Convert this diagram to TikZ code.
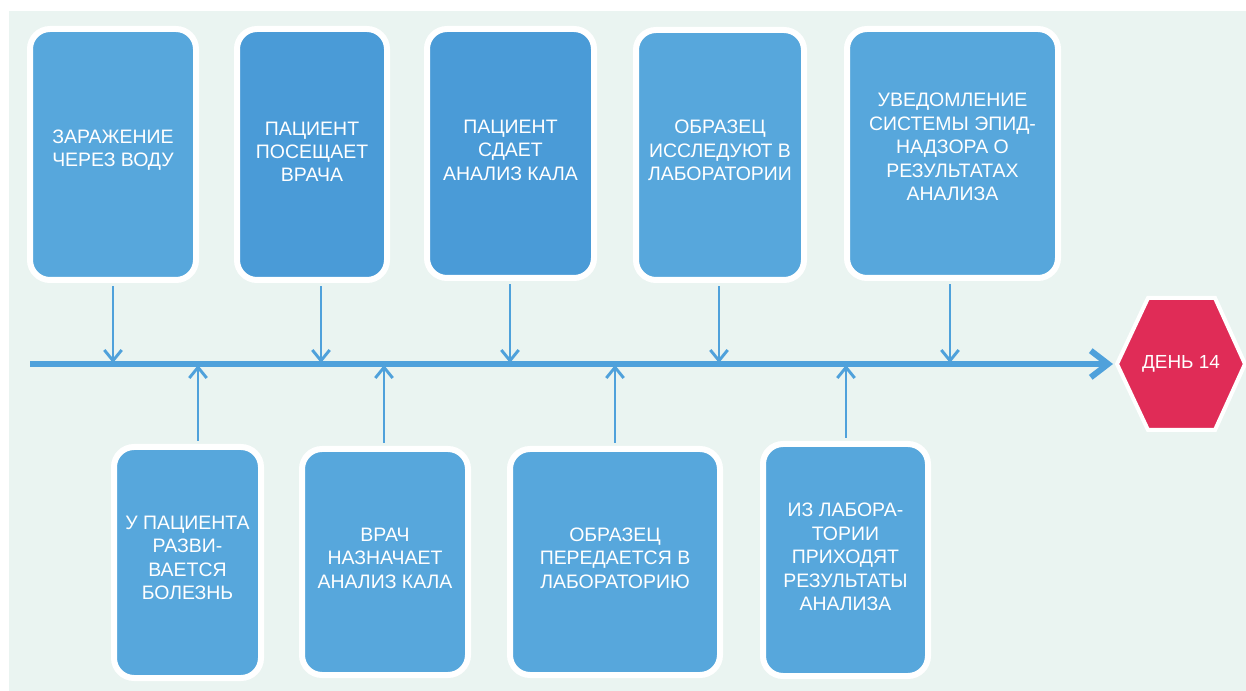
\documentclass[tikz,border=0pt]{standalone}
\usepackage{fontspec}
\setmainfont{Liberation Sans}
\usetikzlibrary{arrows.meta,shadows}
\definecolor{bg}{HTML}{EAF4F1}
\definecolor{boxblue}{HTML}{57A7DC}
\definecolor{boxdark}{HTML}{4A9BD7}
\definecolor{lineblue}{HTML}{4FA1DB}
\definecolor{hexred}{HTML}{E02C57}
\begin{document}
\begin{tikzpicture}[x=0.75pt,y=-0.75pt,
  box/.style={draw=white, line width=4.5pt, rounded corners=15pt, fill=boxblue, inner sep=0pt,
    drop shadow={opacity=0.12, shadow xshift=0.6pt, shadow yshift=-1.2pt}},
  darkbox/.style={box, fill=boxdark},
  txt/.style={text=white, align=center, inner sep=0pt, font=\fontsize{14.6pt}{17.6pt}\selectfont},
  conn/.style={draw=lineblue, line width=2.2pt, shorten <=2.5pt, -{Straight Barb[length=8pt,width=13pt]}},
  mainline/.style={draw=lineblue, line width=4.5pt, -{Straight Barb[length=13pt,width=20pt]}},
]
\useasboundingbox (0,0) rectangle (1246,691);
\fill[bg] (9,11) rectangle (1246,691);

% top boxes
\node[box, minimum width=124.5pt, minimum height=188.25pt] (T1) at (113,154.5) {};
\node[darkbox, minimum width=112.5pt, minimum height=188.25pt] (T2) at (312,154.5) {};
\node[darkbox, minimum width=125.25pt, minimum height=186.75pt] (T3) at (510.5,153.5) {};
\node[box, minimum width=126pt, minimum height=187.5pt] (T4) at (720,155) {};
\node[box, minimum width=158.25pt, minimum height=186.75pt] (T5) at (952.5,153.5) {};
% bottom boxes
\node[box, minimum width=110.25pt, minimum height=173.25pt] (B1) at (187.5,562.5) {};
\node[box, minimum width=124.5pt, minimum height=169.5pt] (B2) at (385,562) {};
\node[box, minimum width=157.5pt, minimum height=169.5pt] (B3) at (615,562) {};
\node[box, minimum width=123.75pt, minimum height=174pt] (B4) at (845.5,560) {};

% texts
\node[txt, yshift=3.2pt] (t1) at (T1.center) {ЗАРАЖЕНИЕ\\ЧЕРЕЗ ВОДУ};
\node[txt, yshift=2pt] (t2) at (T2.center) {ПАЦИЕНТ\\ПОСЕЩАЕТ\\ВРАЧА};
\node[txt, yshift=2.5pt] (t3) at (T3.center) {ПАЦИЕНТ\\СДАЕТ\\АНАЛИЗ КАЛА};
\node[txt, yshift=3.5pt] (t4) at (T4.center) {ОБРАЗЕЦ\\ИССЛЕДУЮТ В\\ЛАБОРАТОРИИ};
\node[txt, yshift=4.8pt] (t5) at (T5.center) {УВЕДОМЛЕНИЕ\\СИСТЕМЫ ЭПИД-\\НАДЗОРА О\\РЕЗУЛЬТАТАХ\\АНАЛИЗА};
\node[txt, yshift=3.3pt] (b1) at (B1.center) {У ПАЦИЕНТА\\РАЗВИ-\\ВАЕТСЯ\\БОЛЕЗНЬ};
\node[txt, yshift=3pt] (b2) at (B2.center) {ВРАЧ\\НАЗНАЧАЕТ\\АНАЛИЗ КАЛА};
\node[txt, yshift=3pt] (b3) at (B3.center) {ОБРАЗЕЦ\\ПЕРЕДАЕТСЯ В\\ЛАБОРАТОРИЮ};
\node[txt, yshift=2.3pt] (b4) at (B4.center) {ИЗ ЛАБОРА-\\ТОРИИ\\ПРИХОДЯТ\\РЕЗУЛЬТАТЫ\\АНАЛИЗА};

% timeline
\coordinate (start) at (30,364);
\coordinate (stop) at (1113,364);
\draw[mainline] (start) -- (stop);

% arrow end points on the timeline
\coordinate (d1) at (113,363);
\coordinate (d2) at (321,363);
\coordinate (d3) at (510,363);
\coordinate (d4) at (719,363);
\coordinate (d5) at (950,363);
\coordinate (u1) at (198,365);
\coordinate (u2) at (384,365);
\coordinate (u3) at (615,365);
\coordinate (u4) at (846,365);

\draw[conn] (T1.south -| d1) -- (d1);
\draw[conn] (T2.south -| d2) -- (d2);
\draw[conn] (T3.south -| d3) -- (d3);
\draw[conn] (T4.south -| d4) -- (d4);
\draw[conn] (T5.south -| d5) -- (d5);
\draw[conn] (B1.north -| u1) -- (u1);
\draw[conn] (B2.north -| u2) -- (u2);
\draw[conn] (B3.north -| u3) -- (u3);
\draw[conn] (B4.north -| u4) -- (u4);

% day 14 hexagon
\coordinate (hL) at (1117,364);
\coordinate (hTL) at (1148,298);
\coordinate (hTR) at (1215,298);
\coordinate (hR) at (1245,364);
\coordinate (hBR) at (1215,430);
\coordinate (hBL) at (1148,430);
\filldraw[fill=hexred, draw=white, line width=3pt, line join=miter,
  drop shadow={opacity=0.1, shadow xshift=0.5pt, shadow yshift=-1pt}]
  (hL) -- (hTL) -- (hTR) -- (hR) -- (hBR) -- (hBL) -- cycle;
\node[text=white, inner sep=0pt, font=\fontsize{14.2pt}{17pt}\selectfont] (day) at (1181,364) {ДЕНЬ 14};
\end{tikzpicture}
\end{document}
